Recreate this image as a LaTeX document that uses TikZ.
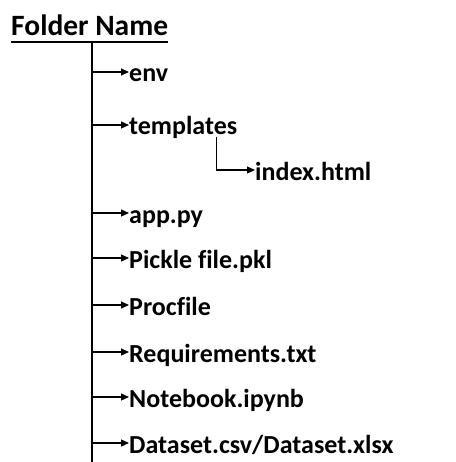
\documentclass[tikz,border=0pt]{standalone}
\usepackage{fontspec}
\setmainfont{Carlito}[Ligatures=NoCommon]
\usetikzlibrary{arrows.meta}
\begin{document}
\begin{tikzpicture}[x=1pt,y=-1pt,
  lbl/.style={anchor=base west,inner sep=0pt,font=\fontsize{26}{28}\selectfont\bfseries},
  ttl/.style={anchor=base west,inner sep=0pt,font=\fontsize{29.5}{32}\selectfont\bfseries},
  trunk/.style={line width=1.4pt},
  arr/.style={line width=1.2pt,-{Triangle[length=8pt,width=7pt]}},
  sub/.style={line width=1pt}]
\useasboundingbox (0,0) rectangle (455,462);
% title
\node[ttl] (title) at (11,36) {Folder Name};
\draw[line width=2pt] ([yshift=-6pt]title.base west) -- ([yshift=-6pt]title.base east);
% trunk
\coordinate (top) at (92,42);
\coordinate (bot) at (92,462);
\draw[trunk] (top) -- (bot);
% junctions
\coordinate (j1) at (92,72);
\coordinate (j2) at (92,125);
\coordinate (j3) at (92,213);
\coordinate (j4) at (92,258);
\coordinate (j5) at (92,305);
\coordinate (j6) at (92,352);
\coordinate (j7) at (92,397);
\coordinate (j8) at (92,443);
% labels
\node[lbl] (env) at (129,82) {env};
\node[lbl] (tmpl) at (129,135) {templates};
\node[lbl] (app) at (129,223) {app.py};
\node[lbl] (pkl) at (129,268) {Pickle file.pkl};
\node[lbl] (proc) at (129,315) {Procfile};
\node[lbl] (req) at (129,362) {Requirements.txt};
\node[lbl] (nb) at (129,407) {Notebook.ipynb};
\node[lbl] (data) at (129,453) {Dataset.csv/Dataset.xlsx};
\node[lbl] (idx) at (255,180) {index.html};
% arrows
\draw[arr] (j1) -- (j1 -| env.west);
\draw[arr] (j2) -- (j2 -| tmpl.west);
\draw[arr] (j3) -- (j3 -| app.west);
\draw[arr] (j4) -- (j4 -| pkl.west);
\draw[arr] (j5) -- (j5 -| proc.west);
\draw[arr] (j6) -- (j6 -| req.west);
\draw[arr] (j7) -- (j7 -| nb.west);
\draw[arr] (j8) -- (j8 -| data.west);
% sub branch
\coordinate (s1) at (216,137);
\coordinate (s2) at (216,170);
\draw[sub] (s1) -- (s2);
\draw[arr] (s2) -- (s2 -| idx.west);
\end{tikzpicture}
\end{document}
